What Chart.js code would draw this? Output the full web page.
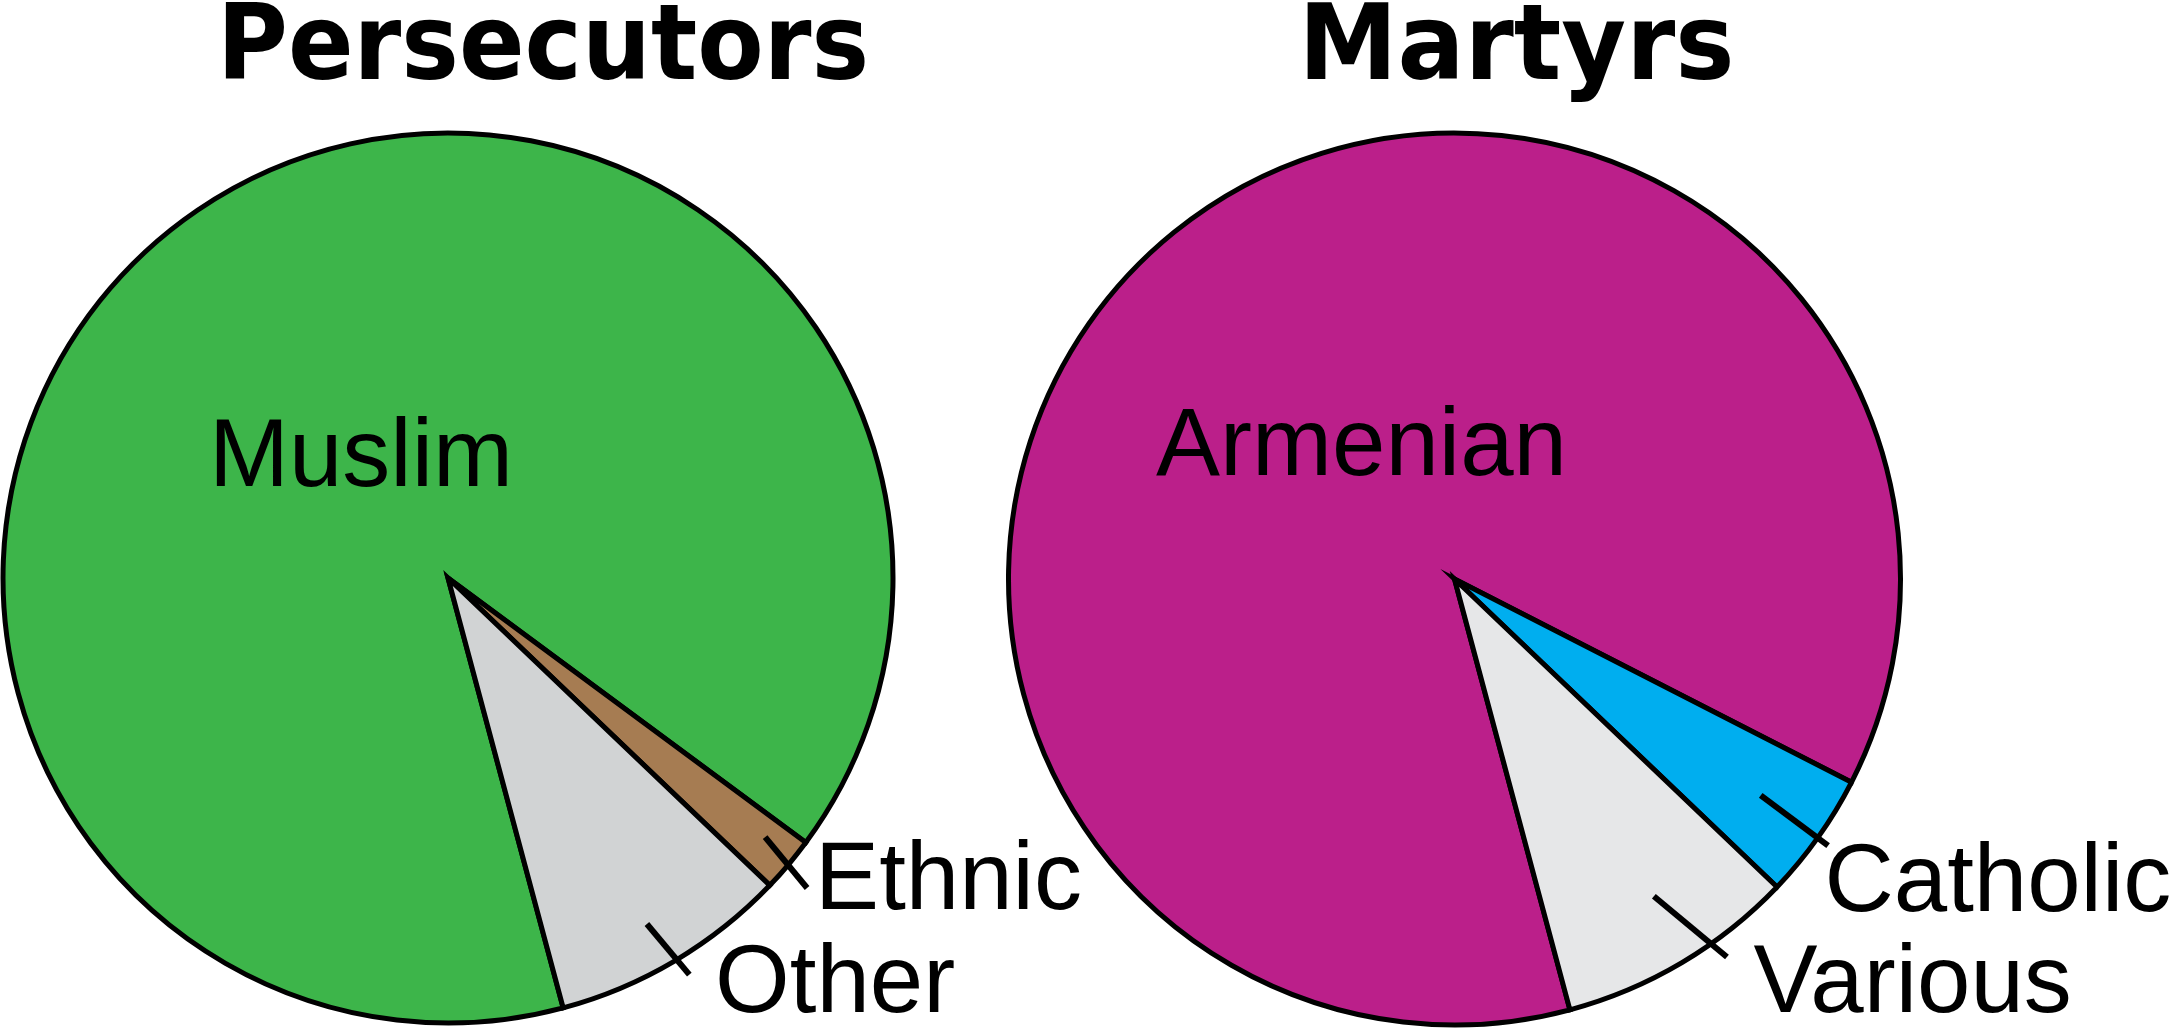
<!DOCTYPE html>
<html>
<head>
<meta charset="utf-8">
<script src="https://cdn.jsdelivr.net/npm/chart.js@4/dist/chart.umd.min.js"></script>
<style>
  html, body { margin: 0; padding: 0; background: #fff; overflow: hidden; width: 2178px; height: 1028px; }
  canvas { position: absolute; left: 0; top: 0; }
</style>
</head>
<body>
<canvas id="persecutors" width="2178" height="1028"></canvas>
<canvas id="martyrs" width="2178" height="1028"></canvas>
<script>
// datos de los dos quesos (porcentajes)
var chartTitles = ["Persecutors", "Martyrs"];
var persecutorLabels = ["Muslim", "Ethnic", "Other"];
var persecutorValues = [89.3, 2.0, 8.7];
var martyrLabels = ["Armenian", "Catholic", "Various"];
var martyrValues = [86.7, 4.6, 8.7];

// titulo encima y etiquetas: dentro del queso o con rayita fuera
function labelPlugin(title, titleDx, titleWidth, items) {
    return {
        id: "sliceLabels",
        afterDatasetsDraw: function(chart) {
            var ctx = chart.ctx;
            var arcs = chart.getDatasetMeta(0).data;
            var labels = chart.data.labels;
            var c = arcs[0].getProps(["x", "y"], true);
            ctx.save();
            ctx.fillStyle = "#000";
            ctx.strokeStyle = "#000";
            ctx.textBaseline = "alphabetic";

            // letra gorda y estrecha como en el original
            ctx.font = "bold 105px 'DejaVu Sans'";
            ctx.textAlign = "center";
            ctx.fillText(title, c.x + titleDx, 79, titleWidth);

            ctx.font = "96px 'Liberation Sans'";
            items.forEach(function(it, i) {
                var p = arcs[i].getProps(["x", "y", "startAngle", "endAngle", "outerRadius"], true);
                if (it.inside) {
                    ctx.textAlign = "center";
                    ctx.fillText(labels[i], p.x + it.dx, p.y + it.dy);
                    return;
                }
                var a = (p.startAngle + p.endAngle) / 2 + (it.shift || 0) * Math.PI / 180;
                var cx = p.x + Math.cos(a) * p.outerRadius * it.r;
                var cy = p.y + Math.sin(a) * p.outerRadius * it.r;
                var d = it.dir * Math.PI / 180;
                var h = it.len / 2;
                ctx.lineWidth = 6;
                ctx.beginPath();
                ctx.moveTo(cx - Math.cos(d) * h, cy - Math.sin(d) * h);
                ctx.lineTo(cx + Math.cos(d) * h, cy + Math.sin(d) * h);
                ctx.stroke();
                ctx.textAlign = "left";
                ctx.fillText(labels[i], cx + it.dx, cy + it.dy);
            });
            ctx.restore();
        }
    };
}

function makePie(id, labels, values, colors, radius, padding, plugin) {
    return new Chart(document.getElementById(id).getContext("2d"), {
        type: "pie",
        data: {
            labels: labels,
            datasets: [{
                data: values,
                backgroundColor: colors,
                borderColor: "#000",
                borderWidth: 5,
                borderJoinStyle: "miter",
                radius: radius
            }]
        },
        options: {
            responsive: false,
            animation: false,
            events: [],
            rotation: 165,
            layout: { padding: padding },
            plugins: {
                legend: { display: false },
                tooltip: { enabled: false },
                title: { display: false }
            }
        },
        plugins: [plugin]
    });
}

makePie("persecutors", persecutorLabels, persecutorValues,
    ["#3db54a", "#a67c52", "#d1d3d4"], 445,
    { left: 0, right: 1282, top: 130, bottom: 2 },
    labelPlugin(chartTitles[0], 95, 652, [
        { inside: true, dx: -87, dy: -92 },
        { r: 0.993, dir: 50.5, len: 66, dx: 29, dy: 46 },
        { r: 0.97, dir: 50, len: 66, dx: 47, dy: 63 }
    ]));

makePie("martyrs", martyrLabels, martyrValues,
    ["#bb1f8a", "#00aeef", "#e6e7e8"], 446,
    { left: 1006, right: 275, top: 132, bottom: 2 },
    labelPlugin(chartTitles[1], 62, 436, [
        { inside: true, dx: -93, dy: -104 },
        { r: 0.935, dir: 36.7, len: 84, dx: 30, dy: 90 },
        { r: 0.942, shift: -3.5, dir: 39.7, len: 95, dx: 63, dy: 85 }
    ]));
</script>
</body>
</html>
